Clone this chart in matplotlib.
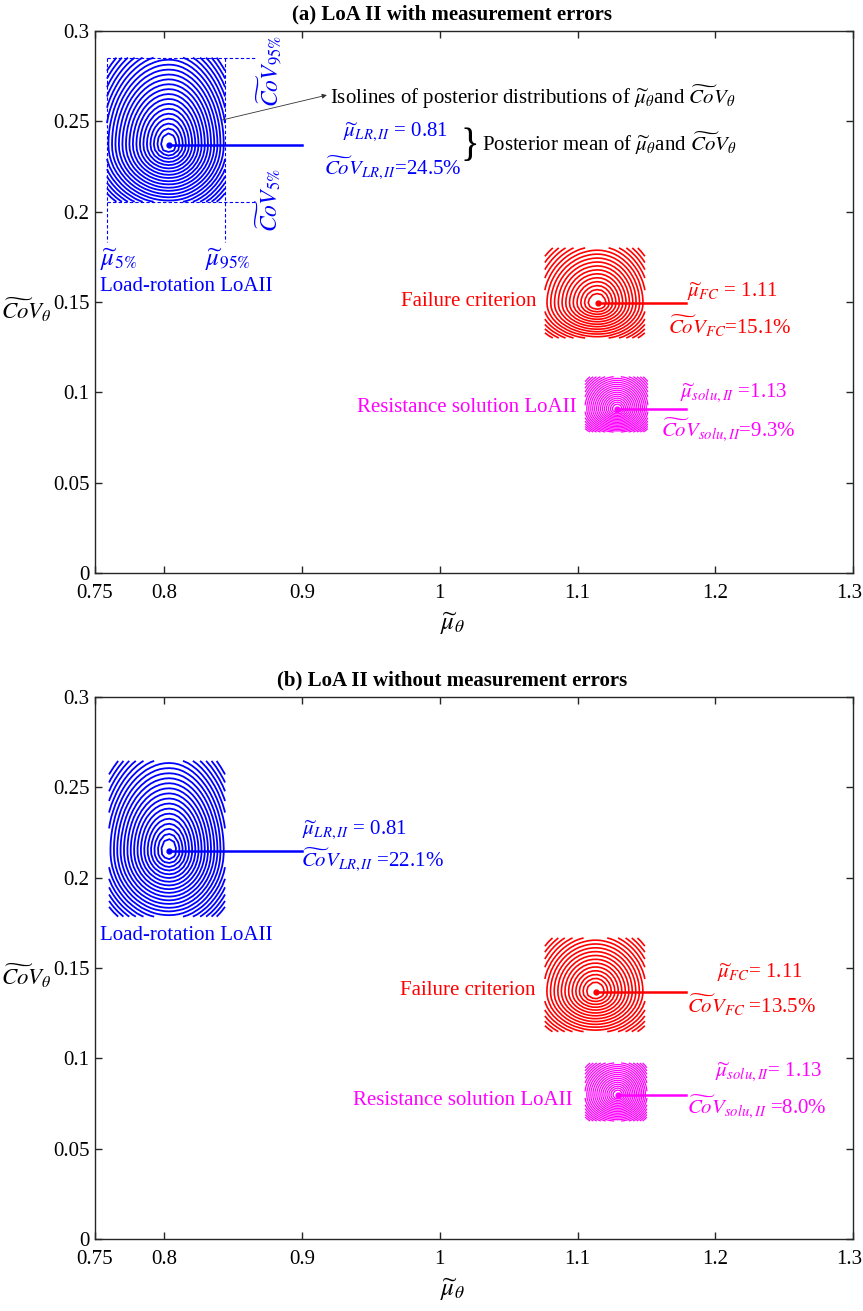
import numpy as np
import matplotlib
matplotlib.use('Agg')
import matplotlib.pyplot as plt
from matplotlib.transforms import ScaledTranslation

plt.rcParams['font.family'] = ['Liberation Serif', 'DejaVu Serif']
plt.rcParams['mathtext.fontset'] = 'stix'

FONT_TICKS = 15
FONT_TEXT = 15

# posterior modes (mu, CoV) of each model, panel (a) then panel (b)
MODELS = ['LR,II', 'FC', 'solu,II']
COLORS = ['#0000ff', '#ff0000', '#ff00ff']
NAMES = ['Load-rotation LoAII', 'Failure criterion', 'Resistance solution LoAII']

MODE_MU_A = [0.8037, 1.1145, 1.1288]
MODE_COV_A = [0.2369, 0.1493, 0.0908]
MODE_MU_B = [0.8037, 1.1131, 1.1293]
MODE_COV_B = [0.2148, 0.1369, 0.0798]

# 5% / 95% bounds of the posterior samples (grid extent of the isolines)
MU_LO_A = [0.7587, 1.0763, 1.1055]
MU_HI_A = [0.8443, 1.1488, 1.1510]
COV_LO_A = [0.2054, 0.1301, 0.0781]
COV_HI_A = [0.2851, 0.1799, 0.1087]
MU_LO_B = [0.7602, 1.0763, 1.1055]
MU_HI_B = [0.8443, 1.1488, 1.1503]
COV_LO_B = [0.1784, 0.1148, 0.0654]
COV_HI_B = [0.2645, 0.1666, 0.0975]

# posterior means written next to each distribution
MEAN_MU_A = [0.81, 1.11, 1.13]
MEAN_COV_A = [24.5, 15.1, 9.3]
MEAN_MU_B = [0.81, 1.11, 1.13]
MEAN_COV_B = [22.1, 13.5, 8.0]

X_TICKS = [0.75, 0.8, 0.9, 1.0, 1.1, 1.2, 1.3]
X_TICK_LABELS = ['0.75', '0.8', '0.9', '1', '1.1', '1.2', '1.3']
Y_TICKS = [0, 0.05, 0.1, 0.15, 0.2, 0.25, 0.3]
Y_TICK_LABELS = ['0', '0.05', '0.1', '0.15', '0.2', '0.25', '0.3']

N_GRID = [26, 24, 24]
N_LEV = [22, 17, 20]
R_IN = [0.3, 0.4, 0.35]
LINE_W = [1.3, 1.2, 0.9]
LINE_END = [0.90, 1.179, 1.179]

COV_SYM = r'\widetilde{Co}V'


def isolines(ax, i, mode, box):
  """Split-normal posterior isolines of model i clipped to its sample box."""
  mx, my = mode
  x0, x1, y0, y1 = box
  xs = np.linspace(x0, x1, N_GRID[i])
  ys = np.linspace(y0, y1, N_GRID[i])
  X, Y = np.meshgrid(xs, ys)
  k_edge = 2.25
  sx = np.where(X < mx, mx - x0, x1 - mx) / k_edge
  sy = np.where(Y < my, my - y0, y1 - my) / k_edge
  Z = np.exp(-0.5 * (((X - mx) / sx) ** 2 + ((Y - my) / sy) ** 2))
  r = np.linspace(R_IN[i], 2.95, N_LEV[i])
  levels = np.sort(np.exp(-0.5 * r ** 2))
  ax.contour(X, Y, Z, levels=levels, colors=COLORS[i], linewidths=LINE_W[i])
  ax.plot([mx, LINE_END[i]], [my, my], color=COLORS[i], lw=1.8)
  ax.plot(mx, my, 'o', ms=3.5, color=COLORS[i])


def setup_axes(ax, title):
  ax.set_xlim(0.75, 1.3)
  ax.set_ylim(0, 0.3)
  ax.set_xticks(X_TICKS)
  ax.set_xticklabels(X_TICK_LABELS)
  ax.set_yticks(Y_TICKS)
  ax.set_yticklabels(Y_TICK_LABELS)
  ax.tick_params(direction='in', length=5, width=1, labelsize=FONT_TICKS,
                 top=True, right=True, colors='#262626', labelcolor='k')
  ax.tick_params(axis='x', pad=8)
  ax.tick_params(axis='y', pad=4)
  # keep the last x label inside the figure
  last = ax.get_xticklabels()[-1]
  last.set_transform(last.get_transform() + ScaledTranslation(-3 / 72, 0, fig.dpi_scale_trans))
  for s in ax.spines.values():
    s.set_color('#262626')
    s.set_linewidth(1.0)
  ax.set_xlabel(r'$\widetilde{\mu}_{\theta}$', fontsize=18)
  ax.xaxis.set_label_coords(0.471, -0.068)
  ax.set_ylabel(rf'${COV_SYM}_{{\theta}}$', fontsize=16.5, rotation=0)
  ax.yaxis.set_label_coords(-0.09, 0.46)
  ax.text(0.471, 1.012, title, transform=ax.transAxes, ha='center',
          va='bottom', fontsize=15, fontweight='bold')


fig = plt.figure(figsize=(8.63, 13.11), dpi=100)
ax_a = fig.add_axes([95 / 863, 1 - 573.3 / 1311, 758.3 / 863, 542.6 / 1311])
ax_b = fig.add_axes([95 / 863, 1 - 1239.3 / 1311, 758.3 / 863, 542.6 / 1311])

setup_axes(ax_a, '(a) LoA II with measurement errors')
setup_axes(ax_b, '(b) LoA II without measurement errors')

# ---- panel (a) ----
for i in range(3):
  isolines(ax_a, i, (MODE_MU_A[i], MODE_COV_A[i]),
           (MU_LO_A[i], MU_HI_A[i], COV_LO_A[i], COV_HI_A[i]))

blue = COLORS[0]
# quantile box of the load-rotation posterior
dash = dict(color=blue, lw=0.8, dashes=(3, 2))
ax_a.plot([MU_LO_A[0], 0.8675], [COV_HI_A[0], COV_HI_A[0]], **dash)
ax_a.plot([MU_LO_A[0], 0.8675], [COV_LO_A[0], COV_LO_A[0]], **dash)
ax_a.plot([MU_LO_A[0], MU_LO_A[0]], [COV_HI_A[0], 0.1833], **dash)
ax_a.plot([MU_HI_A[0], MU_HI_A[0]], [COV_HI_A[0], 0.1833], **dash)
ax_a.text(0.7536, 0.1735, r'$\widetilde{\mu}_{5\%}$', color=blue, fontsize=18, va='center')
ax_a.text(0.8298, 0.1735, r'$\widetilde{\mu}_{95\%}$', color=blue, fontsize=18, va='center')
ax_a.text(0.8762, 0.2776, rf'${COV_SYM}_{{95\%}}$', color=blue, fontsize=17,
          rotation=90, ha='center', va='center')
ax_a.text(0.8754, 0.2065, rf'${COV_SYM}_{{5\%}}$', color=blue, fontsize=17,
          rotation=90, ha='center', va='center')

ax_a.annotate('', xy=(0.9182, 0.2644), xytext=(0.8421, 0.2506),
              arrowprops=dict(arrowstyle='-|>', lw=0.6, color='#333333',
                              mutation_scale=7, shrinkA=0, shrinkB=0))
ax_a.text(0.9204, 0.2633,
          rf'Isolines of posterior distributions of $\widetilde{{\mu}}_{{\theta}}$and ${COV_SYM}_{{\theta}}$',
          fontsize=FONT_TEXT, va='center')
ax_a.text(1.0215, 0.2362, '}', fontsize=28, ha='center', va='center')
ax_a.text(1.031, 0.2378,
          rf'Posterior mean of $\widetilde{{\mu}}_{{\theta}}$and ${COV_SYM}_{{\theta}}$',
          fontsize=FONT_TEXT, va='center')

ax_a.text(0.7536, 0.1585, NAMES[0], color=COLORS[0], fontsize=FONT_TEXT, va='center')
ax_a.text(1.0705, 0.1500, NAMES[1], color=COLORS[1], fontsize=FONT_TEXT, va='center', ha='right')
ax_a.text(1.0995, 0.0914, NAMES[2], color=COLORS[2], fontsize=FONT_TEXT, va='center', ha='right')

mu_pos_a = [(0.9676, 0.2440), (1.2123, 0.1557), (1.2130, 0.0997)]
cov_pos_a = [(0.9660, 0.2241), (1.2105, 0.1362), (1.2094, 0.0792)]
mu_sep_a = [' = ', ' = ', ' =']
for i in range(3):
  ax_a.text(*mu_pos_a[i], rf'$\widetilde{{\mu}}_{{{MODELS[i]}}}${mu_sep_a[i]}{MEAN_MU_A[i]:.2f}',
            color=COLORS[i], fontsize=FONT_TEXT, ha='center', va='center')
  ax_a.text(*cov_pos_a[i], rf'${COV_SYM}_{{{MODELS[i]}}}$={MEAN_COV_A[i]:.1f}%',
            color=COLORS[i], fontsize=FONT_TEXT, ha='center', va='center')

# ---- panel (b) ----
for i in range(3):
  isolines(ax_b, i, (MODE_MU_B[i], MODE_COV_B[i]),
           (MU_LO_B[i], MU_HI_B[i], COV_LO_B[i], COV_HI_B[i]))

ax_b.text(0.7536, 0.1682, NAMES[0], color=COLORS[0], fontsize=FONT_TEXT, va='center')
ax_b.text(1.0698, 0.1378, NAMES[1], color=COLORS[1], fontsize=FONT_TEXT, va='center', ha='right')
ax_b.text(1.0966, 0.0770, NAMES[2], color=COLORS[2], fontsize=FONT_TEXT, va='center', ha='right')

mu_pos_b = [(0.9385, 0.2263), (1.2322, 0.1472), (1.2388, 0.0927)]
cov_pos_b = [(0.9509, 0.2097), (1.2258, 0.1290), (1.2301, 0.0733)]
mu_sep_b = [' = ', '= ', '= ']
for i in range(3):
  ax_b.text(*mu_pos_b[i], rf'$\widetilde{{\mu}}_{{{MODELS[i]}}}${mu_sep_b[i]}{MEAN_MU_B[i]:.2f}',
            color=COLORS[i], fontsize=FONT_TEXT, ha='center', va='center')
  ax_b.text(*cov_pos_b[i], rf'${COV_SYM}_{{{MODELS[i]}}}$ ={MEAN_COV_B[i]:.1f}%',
            color=COLORS[i], fontsize=FONT_TEXT, ha='center', va='center')

fig.savefig('out.png', dpi=100)
